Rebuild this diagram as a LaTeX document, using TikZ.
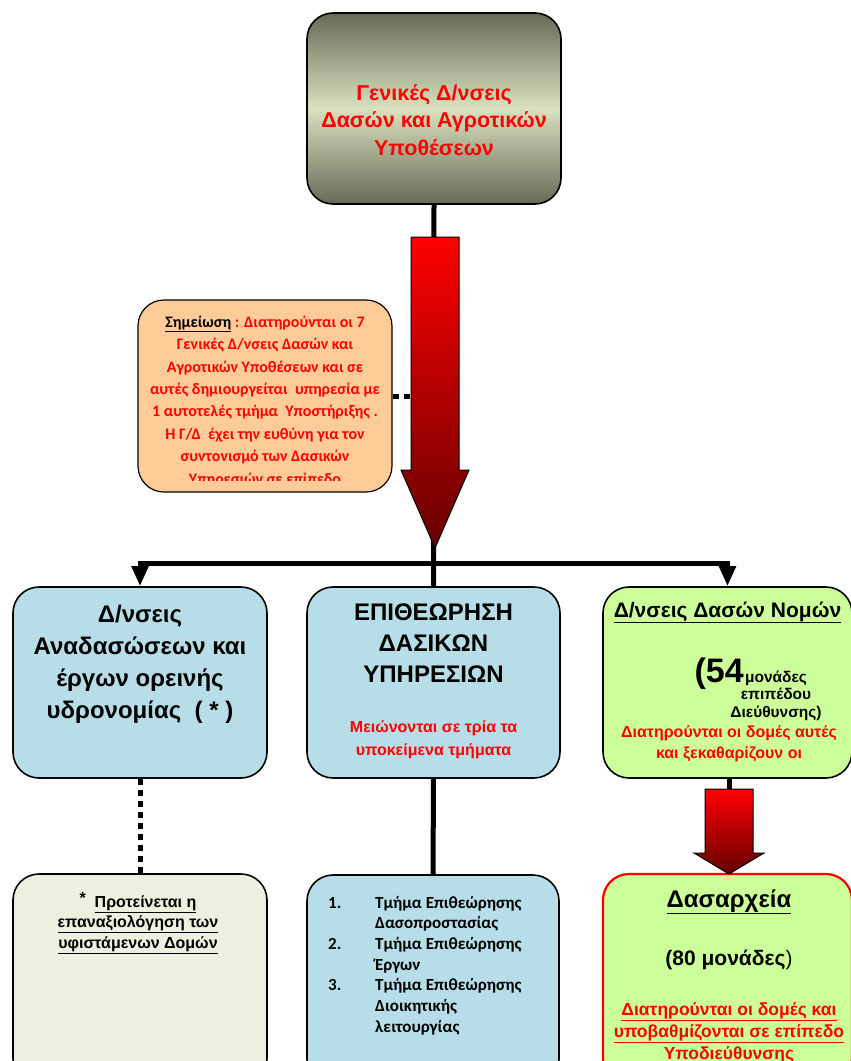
\documentclass[tikz,border=0pt]{standalone}
\usepackage{fontspec}
\setmainfont{Liberation Sans}
\newfontfamily\calib{Carlito}
\usepackage{tikz}
\usetikzlibrary{arrows.meta,positioning}

\definecolor{olivedark}{HTML}{676A57}
\definecolor{olivelight}{HTML}{D9E1BE}
\definecolor{peach}{HTML}{FFCC99}
\definecolor{aqua}{HTML}{B7DEE8}
\definecolor{lime}{HTML}{CCFF99}
\definecolor{pale}{HTML}{EBF1DE}
\definecolor{darkred}{HTML}{650000}

\begin{document}
\begin{tikzpicture}[x=1pt,y=-1pt]
          \tikzstyle{box}=[rectangle,rounded corners=26pt,draw=black,line width=1.6pt,inner sep=0pt]
          \tikzstyle{conn}=[line width=5pt]
          \tikzstyle{dots}=[line width=5pt,dash pattern=on 6pt off 5pt]
          \tikzstyle{blockarrow}=[draw=black,line width=1pt,top color=red,bottom color=darkred]
          \tikzstyle{tip}=[-{Triangle[length=20pt,width=16pt]}]
          \tikzstyle{txt}=[inner sep=0pt,align=center]

          \path[use as bounding box,clip] (0,0) rectangle (851,1061);

          % boxes
          \node[box,minimum width=254pt,minimum height=191pt,
            top color=olivedark,bottom color=olivedark,middle color=olivelight] (gd) at (434,108.5) {};
          \node[box,fill=peach,line width=1.2pt,minimum width=254pt,minimum height=192pt] (note) at (265,396) {};
          \node[box,fill=aqua,minimum width=254pt,minimum height=191pt] (anad) at (140,682.5) {};
          \node[box,fill=aqua,minimum width=253pt,minimum height=191pt] (epith) at (433.5,682.5) {};
          \node[box,fill=lime,minimum width=249pt,minimum height=191pt] (nom) at (727.5,682.5) {};
          \node[box,fill=pale,minimum width=254pt,minimum height=210pt] (prot) at (140,979) {};
          \node[box,fill=aqua,minimum width=252pt,minimum height=210pt] (tmim) at (433,980) {};
          \node[box,fill=lime,draw=red,line width=2.2pt,minimum width=249pt,minimum height=210pt] (dasar) at (727.5,979) {};

          % connectors
          \coordinate (bus) at (433.5,563);
          \coordinate (shaft) at (411,396);
          \coordinate (sa) at (729,791);
          \draw[conn] (gd.south) -- (epith.north);
          \draw[conn,tip] (bus) -| (anad.north);
          \draw[conn,tip] (bus) -| (nom.north);
          \draw[conn] (epith.south) -- (tmim.north);
          \draw[dots] (anad.south) -- (prot.north);
          \draw[dots] (note.east) -- (shaft);
          \draw[conn] (sa |- nom.south) -- (sa);

          % block arrows
          \draw[blockarrow] (411,237) -- (459,237) -- (459,470) -- (469,470) -- (435,548)
            -- (401,470) -- (411,470) -- cycle;
          \draw[blockarrow] (705,789) -- (753,789) -- (753,853) -- (764,853) -- (729,874)
            -- (694,853) -- (705,853) -- cycle;

          % texts (base = last line)
          \node[txt,anchor=base,text=red,font=\bfseries\fontsize{21.5}{27.5}\selectfont] (gdt) at (434,155)
            {Γενικές Δ/νσεις\\Δασών και Αγροτικών\\Υποθέσεων};

          \begin{scope}
            \clip (138,300) rectangle (392,480);
            \node[txt,anchor=base,text=red,font=\calib\bfseries\fontsize{16}{22.4}\selectfont] (notet) at (265,484)
              {\textcolor{black}{\underline{Σημείωση}} : Διατηρούνται οι 7\\Γενικές Δ/νσεις Δασών και\\Αγροτικών Υποθέσεων και σε\\αυτές δημιουργείται\ \ υπηρεσία με\\1 αυτοτελές τμήμα\ \ Υποστήριξης .\\Η Γ/Δ\ \ έχει την ευθύνη για τον\\συντονισμό των Δασικών\\Υπηρεσιών σε επίπεδο};
          \end{scope}

          \node[txt,anchor=base,font=\bfseries\fontsize{24}{32}\selectfont] (anadt) at (140,718)
            {Δ/νσεις\\Αναδασώσεων και\\έργων ορεινής\\υδρονομίας\ \ ( * )};

          \node[txt,anchor=base,font=\bfseries\fontsize{24}{31}\selectfont] (epitht) at (433.5,682)
            {ΕΠΙΘΕΩΡΗΣΗ\\ΔΑΣΙΚΩΝ\\ΥΠΗΡΕΣΙΩΝ};
          \node[txt,anchor=base,text=red,font=\bfseries\fontsize{16}{23}\selectfont] (epithr) at (433.5,755)
            {Μειώνονται σε τρία τα\\υποκείμενα τμήματα};

          \node[txt,anchor=base,font=\bfseries\fontsize{21}{23}\selectfont] (nomt) at (727.5,617)
            {\underline{Δ/νσεις Δασών Νομών}};
          \node[txt,anchor=base east,font=\bfseries\fontsize{34}{34}\selectfont] (n54) at (744,682) {(54};
          \node[txt,anchor=base,font=\bfseries\fontsize{15.5}{17.5}\selectfont] (n54b) at (776,717)
            {μονάδες\\επιπέδου\\Διεύθυνσης)};
          \node[txt,anchor=base,text=red,font=\bfseries\fontsize{16}{21}\selectfont] (nomr) at (729,758)
            {Διατηρούνται οι δομές αυτές\\και ξεκαθαρίζουν οι};

          \node[txt,anchor=base,font=\bfseries\fontsize{16}{20.5}\selectfont] (prott) at (138,948)
            {\raisebox{4pt}{*}\ \ \underline{Προτείνεται η}\\\underline{επαναξιολόγηση των}\\\underline{υφιστάμενων Δομών}};

          \node[txt,anchor=base west,align=left,font=\calib\bfseries\fontsize{17}{20.7}\selectfont] (tmimt) at (328,908)
            {\begin{tabular}[t]{@{}p{35pt}l@{}}
              1. & Τμήμα Επιθεώρησης\\
                 & Δασοπροστασίας\\
              2. & Τμήμα Επιθεώρησης\\
                 & Έργων\\
              3. & Τμήμα Επιθεώρησης\\
                 & Διοικητικής\\
                 & λειτουργίας
            \end{tabular}};

          \node[txt,anchor=base,font=\bfseries\fontsize{24}{26}\selectfont] (dasart) at (729,907)
            {\underline{Δασαρχεία}};
          \node[txt,anchor=base,font=\fontsize{21}{23}\selectfont] (dasarn) at (729,965)
            {\textbf{(80 μονάδες})};
          \node[txt,anchor=base,text=red,font=\bfseries\fontsize{17.5}{22}\selectfont] (dasarr) at (729,1059)
            {\underline{Διατηρούνται οι δομές και}\\\underline{υποβαθμίζονται σε επίπεδο}\\\underline{Υποδιεύθυνσης}};
        \end{tikzpicture}
\end{document}
